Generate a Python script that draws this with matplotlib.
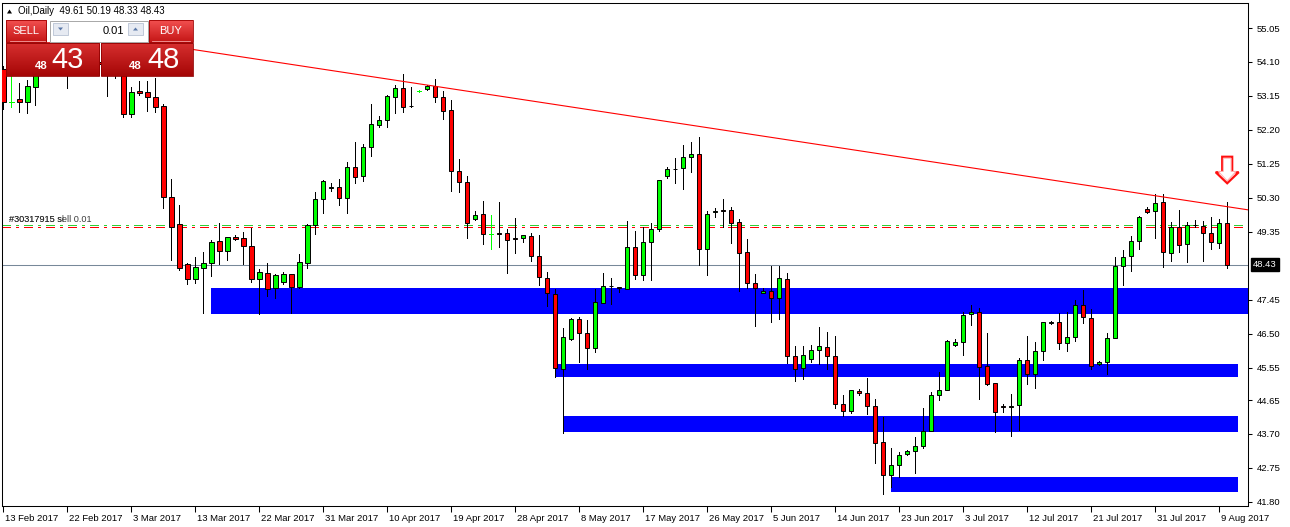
import numpy as np
import matplotlib
matplotlib.use("Agg")
import matplotlib.pyplot as plt
from matplotlib.patches import Rectangle, Polygon
from matplotlib.collections import LineCollection
from matplotlib.colors import to_rgb
import matplotlib.transforms as mtransforms

plt.rcParams['font.family'] = ['Liberation Sans', 'DejaVu Sans']
plt.rcParams['lines.scale_dashes'] = False

# ---------------- data ----------------
header = "Oil,Daily  49.61 50.19 48.33 48.43"
opens = [53.90, 52.99, 53.07, 52.99, 53.41, 53.74, 53.95, 54.05, 53.95, 53.80,
         54.10, 54.30, 54.10, 54.05, 53.90, 54.00, 52.64, 53.30, 53.25, 53.13,
         52.87, 50.32, 49.56, 48.44, 48.02, 48.35, 48.47, 49.09, 48.81, 49.20,
         49.17, 48.95, 48.02, 48.19, 47.77, 47.94, 48.16, 47.82, 48.47, 49.53,
         50.26, 50.58, 50.60, 50.31, 51.16, 50.90, 51.72, 52.33, 52.47, 53.13,
         53.36, 52.88, 53.29, 53.35, 53.42, 53.11, 52.75, 51.04, 50.74, 49.70,
         49.84, 49.29, 49.31, 49.32, 49.17, 49.17, 49.23, 48.67, 48.05, 47.60,
         45.51, 46.35, 46.91, 46.52, 46.10, 47.37, 47.84, 47.80, 47.74, 48.92,
         48.14, 49.06, 49.44, 50.92, 51.12, 51.13, 51.43, 51.52, 48.86, 49.92,
         49.95, 49.95, 49.62, 48.78, 47.91, 47.63, 47.69, 47.49, 48.02, 45.87,
         45.54, 45.79, 46.04, 46.12, 45.87, 44.53, 44.33, 44.89, 44.84, 44.47,
         43.47, 42.54, 42.82, 43.13, 43.22, 43.36, 43.78, 44.78, 44.92, 46.18,
         46.26, 47.05, 47.10, 45.59, 45.12, 44.47, 44.45, 44.50, 45.76, 45.37,
         46.01, 46.80, 46.82, 46.23, 46.40, 47.30, 46.93, 45.65, 45.70, 46.37,
         48.39, 48.67, 49.09, 49.98, 49.93, 50.18, 48.75, 49.48, 49.00, 49.53,
         49.51, 49.31, 49.03, 49.61]
highs = [53.98, 53.72, 53.50, 53.60, 53.88, 54.10, 54.20, 54.25, 54.15, 54.20,
         54.40, 54.50, 54.30, 54.25, 54.15, 54.10, 53.39, 53.57, 53.57, 53.64,
         52.93, 50.83, 50.10, 48.49, 48.66, 48.80, 49.12, 49.61, 49.21, 49.25,
         49.35, 49.47, 48.30, 48.47, 48.16, 48.22, 48.16, 48.72, 49.56, 50.46,
         50.80, 50.71, 50.83, 51.30, 51.86, 51.80, 52.93, 52.59, 53.18, 53.46,
         53.76, 53.39, 53.32, 53.46, 53.62, 53.28, 53.04, 51.39, 50.91, 49.93,
         50.21, 49.82, 50.18, 49.43, 49.74, 49.27, 49.32, 49.25, 48.23, 47.74,
         46.67, 46.94, 46.96, 46.89, 47.74, 48.21, 48.06, 47.80, 49.65, 49.37,
         49.49, 49.59, 50.79, 51.16, 51.42, 51.78, 51.85, 52.00, 49.93, 50.01,
         50.27, 50.04, 49.70, 49.14, 48.16, 47.77, 48.40, 48.40, 48.19, 46.15,
         46.15, 46.19, 46.69, 46.55, 46.44, 44.78, 44.92, 44.95, 45.26, 44.67,
         44.17, 43.30, 43.19, 43.24, 43.61, 44.42, 44.87, 45.42, 46.32, 46.35,
         47.10, 47.30, 47.21, 46.52, 45.12, 44.53, 44.81, 45.82, 46.43, 46.26,
         46.82, 46.85, 47.07, 47.10, 47.44, 47.72, 47.19, 45.73, 46.53, 48.64,
         48.84, 49.23, 49.79, 50.04, 50.40, 50.40, 49.62, 49.95, 49.62, 49.67,
         49.65, 49.78, 49.70, 50.19]
lows = [52.79, 52.84, 52.71, 52.67, 52.89, 53.76, 53.80, 53.85, 53.38, 53.76,
        53.95, 54.00, 53.90, 53.16, 53.65, 52.55, 52.57, 53.18, 52.74, 52.71,
        50.03, 48.56, 48.28, 47.88, 47.93, 47.07, 48.13, 48.44, 48.56, 49.12,
        48.44, 47.96, 47.05, 47.57, 47.51, 47.89, 47.07, 47.77, 48.35, 49.28,
        49.89, 50.50, 50.10, 49.87, 50.73, 50.78, 51.48, 52.27, 52.29, 52.68,
        52.71, 52.85, 53.26, 53.32, 52.98, 52.51, 50.50, 50.47, 49.19, 49.68,
        49.02, 48.86, 48.94, 48.21, 48.77, 49.08, 48.54, 47.86, 47.28, 45.28,
        43.74, 46.33, 45.70, 45.51, 46.00, 47.35, 47.33, 47.68, 47.74, 48.04,
        48.01, 48.01, 49.38, 50.86, 50.73, 50.56, 51.03, 48.43, 48.15, 49.78,
        49.48, 49.03, 47.71, 47.79, 46.73, 47.63, 46.84, 46.91, 45.68, 45.19,
        45.25, 45.71, 45.65, 45.53, 44.43, 44.21, 44.29, 44.80, 44.25, 42.90,
        42.03, 42.23, 42.49, 43.10, 42.60, 43.30, 43.78, 44.64, 44.92, 46.15,
        45.90, 46.74, 44.67, 45.06, 43.75, 44.31, 43.63, 43.80, 45.09, 44.98,
        45.76, 46.77, 46.08, 46.01, 46.29, 46.79, 45.51, 45.62, 45.37, 46.37,
        47.86, 48.25, 48.86, 49.87, 49.17, 48.36, 48.53, 48.78, 48.50, 49.48,
        48.53, 48.86, 48.89, 48.33]
closes = [52.98, 52.99, 52.99, 53.42, 53.74, 53.95, 54.05, 53.95, 53.80, 54.10,
          54.30, 54.10, 54.05, 53.90, 54.00, 52.64, 53.25, 53.22, 53.11, 52.83,
          50.32, 49.50, 48.33, 48.02, 48.36, 48.47, 49.06, 48.81, 49.20, 49.14,
          48.95, 48.02, 48.22, 47.74, 48.14, 48.16, 47.82, 48.50, 49.54, 50.26,
          50.77, 50.60, 50.31, 51.16, 50.88, 51.72, 52.36, 52.48, 53.15, 53.36,
          52.85, 52.87, 53.29, 53.44, 53.13, 52.74, 51.06, 50.75, 49.61, 49.82,
          49.28, 49.29, 49.29, 49.13, 49.15, 49.25, 48.67, 48.08, 47.63, 45.54,
          46.42, 46.91, 46.52, 46.10, 47.38, 47.83, 47.85, 47.77, 48.92, 48.14,
          49.06, 49.42, 50.79, 51.10, 51.10, 51.43, 51.52, 48.86, 49.84, 49.93,
          49.94, 49.59, 48.75, 47.91, 47.77, 47.69, 47.49, 48.05, 45.87, 45.51,
          45.90, 46.04, 46.15, 45.87, 44.53, 44.33, 44.92, 44.84, 44.47, 43.44,
          42.54, 42.82, 43.10, 43.22, 43.36, 43.78, 44.78, 44.92, 46.29, 46.26,
          47.02, 47.10, 45.57, 45.09, 44.31, 44.45, 44.47, 45.76, 45.37, 46.01,
          46.82, 46.82, 46.23, 46.40, 47.30, 46.96, 45.59, 45.70, 46.37, 48.39,
          48.64, 49.09, 49.76, 49.91, 50.15, 48.78, 49.48, 48.98, 49.53, 49.55,
          49.31, 49.06, 49.59, 48.43]
date_labels = ["13 Feb 2017", "22 Feb 2017", "3 Mar 2017", "13 Mar 2017", "22 Mar 2017",
               "31 Mar 2017", "10 Apr 2017", "19 Apr 2017", "28 Apr 2017", "8 May 2017",
               "17 May 2017", "26 May 2017", "5 Jun 2017", "14 Jun 2017", "23 Jun 2017",
               "3 Jul 2017", "12 Jul 2017", "21 Jul 2017", "31 Jul 2017", "9 Aug 2017"]
label_step = 8
price_ticks = [55.05, 54.10, 53.15, 52.20, 51.25, 50.30, 49.35, 47.45, 46.50,
               45.55, 44.65, 43.70, 42.75, 41.80]
bid = 48.43
order_open = 49.54
order_sl = 49.48
order_label = "#30317915 sell 0.01"
order_label2 = "#30317915 sl"
trend_bars = [24.6, 155.5]
trend_prices = [54.42, 49.97]
zone_start = [26, 69, 70, 111]
zone_end = [156.5, 154.4, 154.4, 154.4]
zone_top = [47.78, 45.66, 44.21, 42.50]
zone_bottom = [47.05, 45.30, 43.76, 42.09]
arrow_bar = 153
arrow_tip = 50.71
lot = "0.01"
sell_big, sell_small = "43", "48"
buy_big, buy_small = "48", "48"

# ---------------- figure ----------------
W, H = 1290, 527
fig = plt.figure(figsize=(W / 100, H / 100), dpi=100)
fig.patch.set_facecolor('white')
ax_l, ax_r, ax_t, ax_b = 2, 1248, 3, 506
ax = fig.add_axes([ax_l / W, (H - ax_b) / H, (ax_r - ax_l) / W, (ax_b - ax_t) / H])
ax.set_facecolor('white')
n = len(opens)
xmin, xmax = -0.16, 155.6
ymin, ymax = 41.687, 55.749
ax.set_xlim(xmin, xmax)
ax.set_ylim(ymin, ymax)
px_bar = (ax_r - ax_l) / (xmax - xmin)
px_price = (ax_b - ax_t) / (ymax - ymin)

# zones
for s, e, t, b in zip(zone_start, zone_end, zone_top, zone_bottom):
    ax.add_patch(Rectangle((s, b), e - s, t - b, facecolor='#0000FF', edgecolor='none',
                           zorder=1, antialiased=False))

# horizontal lines
ax.axhline(bid, color='#778899', lw=0.75, zorder=2)
ax.plot([xmin, 155.2], [order_open, order_open], color='#32CD32', lw=0.75,
        dashes=(5.8, 4.0, 1.8, 4.0), zorder=2, antialiased=False)
ax.plot([xmin, 155.2], [order_sl, order_sl], color='#FF0000', lw=0.75,
        dashes=(5.8, 4.0, 1.8, 4.0), zorder=2, antialiased=False)

# candles
body_w = 0.56
wick_segs, lime_segs = [], []
for i in range(n):
    o, h, l, c = opens[i], highs[i], lows[i], closes[i]
    if o == c:
        lime_segs.append([(i, l), (i, h)])
        lime_segs.append([(i - body_w / 2, o), (i + body_w / 2, o)])
        continue
    wick_segs.append([(i, l), (i, h)])
    col = '#00FF00' if c > o else '#FF0000'
    ax.add_patch(Rectangle((i - body_w / 2, min(o, c)), body_w, abs(c - o),
                           facecolor=col, edgecolor='black', linewidth=0.7, zorder=5))
ax.add_collection(LineCollection(wick_segs, colors='black', linewidths=0.72, zorder=4,
                                 antialiased=False))
ax.add_collection(LineCollection(lime_segs, colors='#00FF00', linewidths=0.72, zorder=4,
                                 antialiased=False))

# trendline
slope = (trend_prices[1] - trend_prices[0]) / (trend_bars[1] - trend_bars[0])
tx = np.array([22, xmax])
ty = trend_prices[0] + slope * (tx - trend_bars[0])
ax.plot(tx, ty, color='#FF0000', lw=0.8, zorder=6)

# order labels (overlapping, as in the terminal)
ax.text(0.7, order_open + 0.16, order_label2, fontsize=6.6, color='#555555', va='center',
        ha='left', zorder=6)
ax.text(0.7, order_open + 0.16, order_label, fontsize=6.6, color='#1a1a1a', va='center',
        ha='left', zorder=6, alpha=0.85)

# down arrow
pts_px = [(0, 0), (-11.5, 11), (-5, 11), (-5, 26.5), (5, 26.5), (5, 11), (11.5, 11)]
pts = [(arrow_bar + dx / px_bar, arrow_tip + dy / px_price) for dx, dy in pts_px]
ax.add_patch(Polygon(pts, closed=True, facecolor='white', edgecolor='#FF1010', lw=1.6,
                     zorder=7, joinstyle='miter'))
pts_in = [(arrow_bar + dx * 0.78 / px_bar, arrow_tip + (dy * 0.85 + 2.5) / px_price)
          for dx, dy in pts_px]
ax.add_patch(Polygon(pts_in, closed=True, facecolor='white', edgecolor='#FFB0B0', lw=0.7,
                     zorder=7))

# axes styling
for sp in ax.spines.values():
    sp.set_color('black')
    sp.set_linewidth(0.75)
ax.yaxis.tick_right()
ax.set_yticks(price_ticks)
ax.set_yticklabels([f"{v:.2f}" for v in price_ticks])
ax.tick_params(axis='y', direction='out', length=3, width=0.75, pad=3, labelsize=6.8,
               colors='black')
ax.set_xticks(list(range(0, n, label_step)))
ax.set_xticklabels(date_labels, ha='left')
ax.tick_params(axis='x', direction='out', length=4, width=0.75, pad=2, labelsize=6.8,
               colors='black')
off = mtransforms.ScaledTranslation(2 / 100, 0, fig.dpi_scale_trans)
for lab in ax.get_xticklabels():
    lab.set_transform(lab.get_transform() + off)

blend = mtransforms.blended_transform_factory(ax.transAxes, ax.transData)
ax.text(1.0 + 5 / (ax_r - ax_l), bid, f"{bid:.2f}", transform=blend, ha='left', va='center',
        color='white', fontsize=6.8, zorder=10,
        bbox=dict(boxstyle='square,pad=0.2', fc='black', ec='black'))

# ---------------- overlay (header + trade panel) ----------------
axo = fig.add_axes([0, 0, 1, 1], zorder=10)
axo.patch.set_alpha(0)
axo.axis('off')


def grad(x0, y0, x1, y1, ctop, cbot, z=1):
    t = np.linspace(0, 1, 64)[:, None]
    a, b = np.array(to_rgb(ctop)), np.array(to_rgb(cbot))
    img = (a * (1 - t) + b * t)[:, None, :]
    axo.imshow(img, extent=(x0, x1, y1, y0), aspect='auto', zorder=z,
               interpolation='bilinear')


axo.add_patch(Polygon([(7, 13.5), (12, 13.5), (9.5, 9.5)], closed=True, fc='black',
                      ec='none'))
axo.text(18, 11.5, header, fontsize=7, color='black', va='center', ha='left')

# sell / buy small buttons
grad(5.5, 20, 46, 42, '#F25050', '#C51616')
grad(149, 20, 193, 42, '#F25050', '#C51616')
axo.add_patch(Rectangle((5.5, 20), 40.5, 22, fill=False, ec='#A00000', lw=0.6, zorder=2))
axo.add_patch(Rectangle((149, 20), 44, 22, fill=False, ec='#A00000', lw=0.6, zorder=2))
axo.plot([10, 45], [41, 41], color='#F4A0A0', lw=0.6, zorder=3)
axo.plot([152, 190], [41, 41], color='#F4A0A0', lw=0.6, zorder=3)
axo.text(26, 31, "SELL", color='white', fontsize=8, ha='center', va='center', zorder=3)
axo.text(171, 31, "BUY", color='white', fontsize=8, ha='center', va='center', zorder=3)

# lot spinner
axo.add_patch(Rectangle((50, 20.5), 98, 21.5, fc='white', ec='#A8A8A8', lw=0.7, zorder=2))
for bx in (53, 128):
    axo.add_patch(Rectangle((bx, 23), 15, 12, fc='#E6EAF2', ec='#B8C2D4', lw=0.6, zorder=3))
axo.add_patch(Polygon([(58, 27.5), (63, 27.5), (60.5, 30.5)], closed=True, fc='#5A78A8',
                      ec='none', zorder=4))
axo.add_patch(Polygon([(133, 30.5), (138, 30.5), (135.5, 27.5)], closed=True, fc='#5A78A8',
                      ec='none', zorder=4))
axo.text(124, 31, lot, color='black', fontsize=8, ha='right', va='center', zorder=3)

# big price boxes
grad(5.5, 42.7, 99, 76, '#D83030', '#A50606')
grad(101, 42.7, 193, 76, '#D83030', '#A50606')
axo.add_patch(Rectangle((5.5, 42.7), 93.5, 33.3, fill=False, ec='#900000', lw=0.6, zorder=2))
axo.add_patch(Rectangle((101, 42.7), 92, 33.3, fill=False, ec='#900000', lw=0.6, zorder=2))
axo.text(41.5, 66, sell_small, color='white', fontsize=8.2, fontweight='bold', ha='center',
         va='center', zorder=3)
axo.text(68, 59.5, sell_big, color='white', fontsize=21, ha='center', va='center', zorder=3)
axo.text(135.5, 66, buy_small, color='white', fontsize=8.2, fontweight='bold', ha='center',
         va='center', zorder=3)
axo.text(163.5, 59.5, buy_big, color='white', fontsize=21, ha='center', va='center', zorder=3)

axo.set_xlim(0, W)
axo.set_ylim(H, 0)

fig.savefig("out.png", dpi=100, facecolor='white')
